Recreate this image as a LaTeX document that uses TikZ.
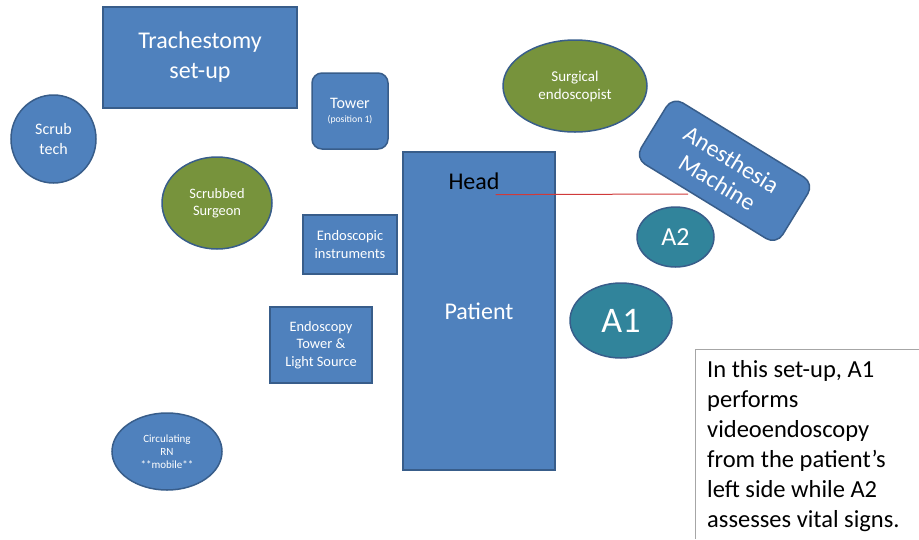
\documentclass[tikz,border=0pt]{standalone}
\usepackage{fontspec}
\setmainfont{Carlito}
\usetikzlibrary{shapes.geometric}
\definecolor{boxblue}{HTML}{4F81BD}
\definecolor{edgeblue}{HTML}{385D8A}
\definecolor{surggreen}{HTML}{77933C}
\definecolor{anestteal}{HTML}{31849B}
\definecolor{leadred}{HTML}{D03A3A}
\definecolor{notegray}{HTML}{A6A6A6}

\begin{document}
\begin{tikzpicture}[x=1pt, y=-1pt,
    block/.style={draw=edgeblue, fill=boxblue, line width=1.5pt, text=white,
        align=center, inner sep=0pt},
    person/.style={block, ellipse},
    surgeonfill/.style={fill=surggreen},
    anestfill/.style={fill=anestteal}]
    \useasboundingbox (0,0) rectangle (919,539);

    % Столик для трахеостомии
    \node[block, minimum width=194pt, minimum height=101pt,
        font=\fontsize{24}{30}\selectfont] (tray) at (200,57.5) {Trachestomy\\set-up};

    % Операционная сестра
    \node[person, minimum width=85pt, minimum height=88pt,
        font=\fontsize{16}{19.5}\selectfont] (scrub) at (53.5,139) {Scrub\\tech};

    % Стойка (позиция 1)
    \node[block, rounded corners=10pt, minimum width=76pt, minimum height=76pt,
        font=\fontsize{16}{19}\selectfont] (tower) at (350,111)
        {Tower\\[-5pt]{\fontsize{9.7}{12}\selectfont (position 1)}};

    % Хирург
    \node[person, surgeonfill, minimum width=110pt, minimum height=92pt,
        font=\fontsize{14.4}{17.3}\selectfont] (surgeon) at (217,203) {Scrubbed\\Surgeon};

    % Эндоскопические инструменты
    \node[block, minimum width=94pt, minimum height=59pt,
        font=\fontsize{14.5}{17.5}\selectfont] (instr) at (350,244.5) {Endoscopic\\instruments};

    % Эндоскопическая стойка
    \node[block, minimum width=102pt, minimum height=76pt,
        font=\fontsize{14.4}{17.5}\selectfont] (endotower) at (321,345)
        {Endoscopy\\Tower \&\\Light Source};

    % Пациент
    \node[block, minimum width=152pt, minimum height=318pt,
        font=\fontsize{24}{29}\selectfont] (patient) at (479,311) {Patient};
    \node[font=\fontsize{24}{29}\selectfont, inner sep=2pt] (head) at (474,181) {Head};

    % Хирург-эндоскопист
    \node[person, surgeonfill, minimum width=144pt, minimum height=92pt,
        font=\fontsize{15}{18}\selectfont] (surgendo) at (575,86) {Surgical\\endoscopist};

    % Наркозный аппарат
    \node[block, rounded corners=12pt, minimum width=166pt, minimum height=72pt,
        rotate=-31.5, font=\fontsize{24}{27}\selectfont] (anes) at (724.5,170.75)
        {Anesthesia\\Machine};

    % Анестезиологи
    \node[person, anestfill, minimum width=77pt, minimum height=60pt,
        font=\fontsize{26}{30}\selectfont] (atwo) at (675.5,237) {A2};
    \node[person, anestfill, minimum width=102pt, minimum height=75pt,
        font=\fontsize{36}{42}\selectfont] (aone) at (621,320.5) {A1};

    % Линия от головы
    \coordinate (anesedge) at (688,194);
    \draw[leadred, line width=1pt] (head.south east) ++(-6,3) -- (anesedge);

    % Циркулирующая сестра
    \node[person, minimum width=110pt, minimum height=77pt,
        font=\fontsize{11}{13}\selectfont] (rn) at (167,451.5) {Circulating\\RN\\**mobile**};

    % Пояснение
    \draw[notegray, line width=0.8pt] (695,539) -- (695,349) -- (919,349);
    \node[anchor=north west, align=left, inner sep=0pt,
        font=\fontsize{24.5}{30}\selectfont] (note) at (707,360)
        {In this set-up, A1\\performs\\videoendoscopy\\from the patient’s\\left side while A2\\assesses vital signs.};
\end{tikzpicture}
\end{document}
